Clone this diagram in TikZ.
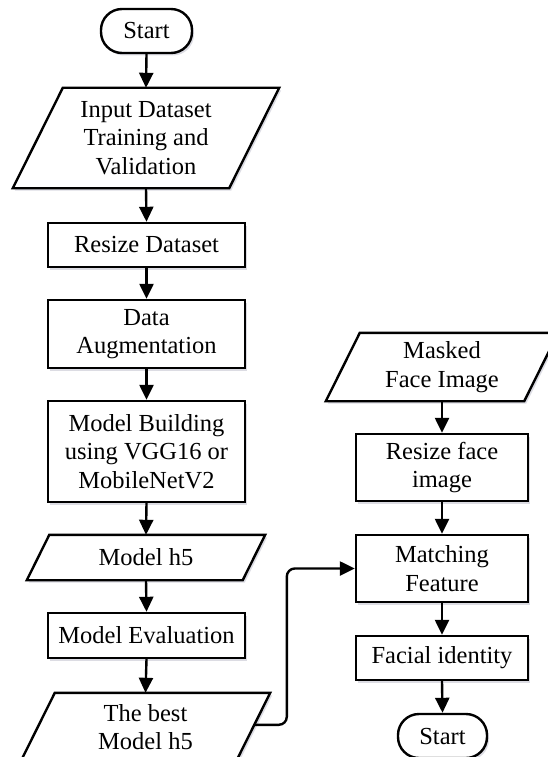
\documentclass[tikz,border=0pt]{standalone}
\usepackage{fontspec}
\setmainfont{Liberation Serif}
\usetikzlibrary{arrows.meta,calc,shadows,backgrounds}
\begin{document}
\begin{tikzpicture}[x=1pt,y=-1pt,
  every node/.style={font=\fontsize{24.5}{28.5}\selectfont, align=center, inner sep=0pt},
  shadowed/.style={drop shadow={shadow xshift=2pt, shadow yshift=-2.5pt, fill=blue!20!black!30, opacity=0.45}},
  box/.style={rectangle, draw, line width=2.4pt, fill=white, shadowed},
  term/.style={box, rounded corners=21pt},
  iotext/.style={rectangle},
  iobox/.style={draw, line width=2.4pt, fill=white, shadowed, line join=miter},
  arr/.style={-{Triangle[length=15pt,width=14pt]}, line width=2.4pt}
]
\useasboundingbox (0,0) rectangle (547,757);
% left column
\node[term, minimum width=91pt, minimum height=44pt] (start) at (146.5,31) {Start};
\node[iotext, minimum width=266pt, minimum height=100pt] (inp) at (146,138) {Input Dataset\\Training and\\Validation};
\node[box, minimum width=197pt, minimum height=44pt] (resize) at (146.5,245) {Resize Dataset};
\node[box, minimum width=197pt, minimum height=68pt] (aug) at (146.5,334) {Data\\Augmentation};
\node[box, minimum width=197pt, minimum height=101pt] (build) at (146.5,451.5) {Model Building\\using VGG16 or\\MobileNetV2};
\node[iotext, minimum width=238pt, minimum height=45pt] (mh5) at (146,557.5) {Model h5};
\node[box, minimum width=197pt, minimum height=45pt] (eval) at (146.5,635.5) {Model Evaluation};
\node[iotext, minimum width=249pt, minimum height=68pt] (best) at (145.5,727) {The best\\Model h5};
% right column
\node[iotext, minimum width=232pt, minimum height=68pt] (masked) at (442,367) {Masked\\Face Image};
\node[box, minimum width=172pt, minimum height=67pt] (rface) at (442,467.5) {Resize face\\image};
\node[box, minimum width=172pt, minimum height=67pt] (match) at (442,568.5) {Matching\\Feature};
\node[box, minimum width=172pt, minimum height=44pt] (facial) at (442,658) {Facial identity};
\node[term, minimum width=89pt, minimum height=44pt] (end) at (442.5,736) {Start};
% parallelograms
\begin{scope}[on background layer]
\draw[iobox] ([xshift=50pt]inp.north west) -- (inp.north east) -- ([xshift=-50pt]inp.south east) -- (inp.south west) -- cycle;
\draw[iobox] ([xshift=22.5pt]mh5.north west) -- (mh5.north east) -- ([xshift=-22.5pt]mh5.south east) -- (mh5.south west) -- cycle;
\draw[iobox] ([xshift=34pt]best.north west) -- (best.north east) -- ([xshift=-34pt]best.south east) -- (best.south west) -- cycle;
\draw[iobox] ([xshift=34pt]masked.north west) -- (masked.north east) -- ([xshift=-34pt]masked.south east) -- (masked.south west) -- cycle;
\end{scope}
% connectors
\draw[arr] (start.south) -- (inp.north);
\draw[arr] (inp.south) -- (resize.north);
\draw[arr] (resize.south) -- (aug.north);
\draw[arr] (aug.south) -- (build.north);
\draw[arr] (build.south) -- (mh5.north);
\draw[arr] (mh5.south) -- (eval.north);
\draw[arr] (eval.south) -- (best.north);
\draw[arr] (masked.south) -- (rface.north);
\draw[arr] (rface.south) -- (match.north);
\draw[arr] (match.south) -- (facial.north);
\draw[arr] (facial.south) -- (end.north);
\coordinate (bout) at ($(best.north east)+(-16,32)$);
\draw[arr, rounded corners=8pt] (bout) -| ($(match.west)+(-68,0)$) -- (match.west);
\end{tikzpicture}
\end{document}
